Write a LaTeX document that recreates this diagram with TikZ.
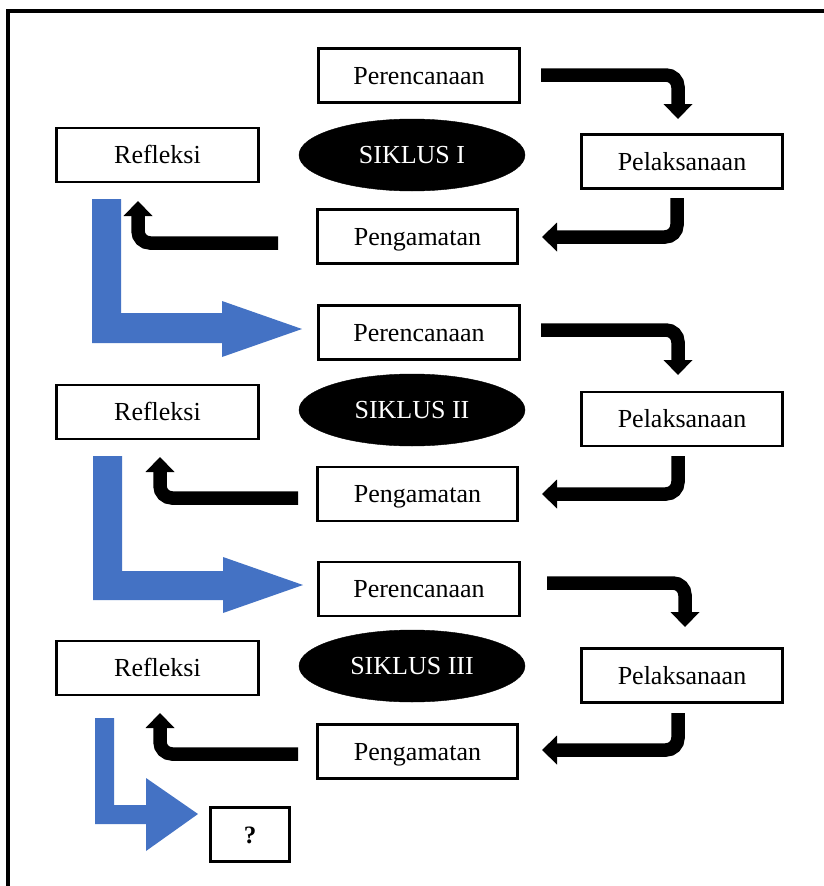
\documentclass[tikz,border=0pt]{standalone}
\usepackage{fontspec}
\setmainfont{Liberation Serif}
\usetikzlibrary{arrows.meta,shapes.geometric}
\definecolor{blockblue}{HTML}{4472C4}
\tikzset{
  box/.style={draw, line width=2.8pt, inner sep=0pt, minimum height=54pt,
    text height=17pt, text depth=0pt, font=\fontsize{26}{30}\selectfont},
  oval/.style={ellipse, fill=black, draw=black, minimum width=226pt, minimum height=72pt,
    inner sep=0pt, text=white, text height=17pt, text depth=0pt, font=\fontsize{26}{30}\selectfont},
  conn/.style={line width=13.5pt, rounded corners=12pt,
    -{Triangle[width=29pt,length=15pt,line width=0pt]}},
  bluearrow/.style={fill=blockblue}
}
\begin{document}
\begin{tikzpicture}[x=1pt,y=-1pt]
\useasboundingbox (0,0) rectangle (824,886);
\clip (0,0) rectangle (824,886);
\fill[white] (0,0) rectangle (824,886);
% frame
\draw[line width=4pt] (8,11) rectangle (900,950);

% ---------- Cycle I ----------
\node[box, minimum width=201pt] (per1) at (419,75.5) {Perencanaan};
\node[box, minimum width=202pt] (ref1) at (157.5,155) {Refleksi};
\node[oval] (sik1) at (412,155) {SIKLUS I};
\node[box, minimum width=201pt] (pel1) at (682,161.5) {Pelaksanaan};
\node[box, minimum width=200pt] (pen1) at (417.5,236.5) {Pengamatan};

% ---------- Cycle II ----------
\node[box, minimum width=201pt] (per2) at (419,332.5) {Perencanaan};
\node[box, minimum width=202pt] (ref2) at (157.5,412) {Refleksi};
\node[oval] (sik2) at (412,410) {SIKLUS II};
\node[box, minimum width=201pt] (pel2) at (682,419) {Pelaksanaan};
\node[box, minimum width=200pt] (pen2) at (417.5,494) {Pengamatan};

% ---------- Cycle III ----------
\node[box, minimum width=201pt] (per3) at (419,589) {Perencanaan};
\node[box, minimum width=202pt] (ref3) at (157.5,668) {Refleksi};
\node[oval] (sik3) at (412,666) {SIKLUS III};
\node[box, minimum width=201pt] (pel3) at (682,675.5) {Pelaksanaan};
\node[box, minimum width=200pt] (pen3) at (417.5,751.5) {Pengamatan};

\node[box, minimum width=79pt, font=\fontsize{25}{30}\selectfont\bfseries, text height=17pt] (q) at (250,834.5) {?};

% ---------- black connectors ----------
\coordinate (c1a) at (541,75);   \coordinate (c1b) at (678,119);
\coordinate (c1c) at (677,198);  \coordinate (c1d) at (542,237);
\coordinate (c1e) at (278,243);  \coordinate (c1f) at (138,201);
\draw[conn] (c1a) -| (c1b);
\draw[conn] (c1c) |- (c1d);
\draw[conn] (c1e) -| (c1f);

\coordinate (c2a) at (541,330);  \coordinate (c2b) at (678,375);
\coordinate (c2c) at (678,456);  \coordinate (c2d) at (542,494);
\coordinate (c2e) at (298,498);  \coordinate (c2f) at (160,457);
\draw[conn] (c2a) -| (c2b);
\draw[conn] (c2c) |- (c2d);
\draw[conn] (c2e) -| (c2f);

\coordinate (c3a) at (547,583);  \coordinate (c3b) at (685,627);
\coordinate (c3c) at (678,713);  \coordinate (c3d) at (542,750);
\coordinate (c3e) at (298,754);  \coordinate (c3f) at (160,713);
\draw[conn] (c3a) -| (c3b);
\draw[conn] (c3c) |- (c3d);
\draw[conn] (c3e) -| (c3f);

% ---------- blue block arrows ----------
\fill[bluearrow] (92,199) -- (92,343) -- (222,343) -- (222,357) -- (302,329)
  -- (222,301) -- (222,313) -- (121,313) -- (121,199) -- cycle;
\fill[bluearrow] (93,456) -- (93,600) -- (223,600) -- (223,613) -- (303,585)
  -- (223,557) -- (223,571) -- (122,571) -- (122,456) -- cycle;
\fill[bluearrow] (95,718) -- (95,824) -- (146,824) -- (146,851) -- (198,814)
  -- (146,778) -- (146,805) -- (114,805) -- (114,718) -- cycle;
\end{tikzpicture}
\end{document}
